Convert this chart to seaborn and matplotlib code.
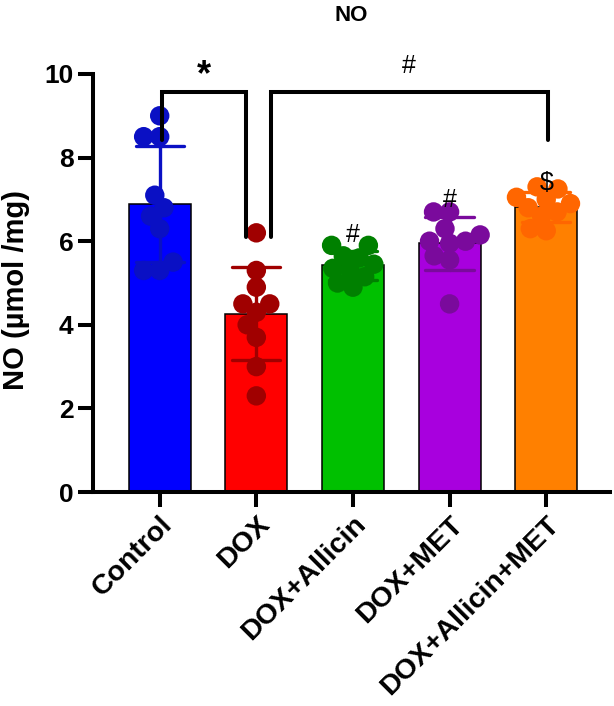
# NO levels per treatment group: bar = mean, error bar = SD, dots = individual samples

import pandas as pd
import numpy as np
import matplotlib
matplotlib.use("Agg")
import matplotlib.pyplot as plt
import seaborn as sns

# Data (NO, umol/mg)
groups = ["Control", "DOX", "DOX+Allicin", "DOX+MET", "DOX+Allicin+MET"]
control = [9.0, 8.5, 8.5, 7.1, 6.8, 6.6, 6.3, 5.5, 5.3, 5.3]
dox = [6.2, 5.3, 4.9, 4.5, 4.5, 4.3, 4.0, 3.7, 3.0, 2.3]
dox_allicin = [5.9, 5.9, 5.65, 5.6, 5.45, 5.35, 5.3, 5.15, 5.0, 4.9]
dox_met = [6.7, 6.7, 6.3, 6.15, 6.0, 6.0, 5.95, 5.65, 5.55, 4.5]
dox_allicin_met = [7.3, 7.25, 7.05, 7.0, 6.9, 6.8, 6.7, 6.6, 6.3, 6.25]

bar_colors = ["#0000FF", "#FF0000", "#00C000", "#A800DE", "#FF8000"]
dot_colors = ["#0A10C4", "#A00000", "#008000", "#7A0A9C", "#FF6600"]

df = pd.DataFrame({
    "group": np.repeat(groups, 10),
    "value": control + dox + dox_allicin + dox_met + dox_allicin_met,
})

sns.set_style("ticks")
plt.rcParams["font.family"] = ["Liberation Sans", "DejaVu Sans"]
plt.rcParams["text.color"] = "black"
plt.rcParams["axes.labelcolor"] = "black"
plt.rcParams["xtick.color"] = "black"
plt.rcParams["ytick.color"] = "black"
plt.rcParams["axes.edgecolor"] = "black"

fig = plt.figure(figsize=(6.14, 7.06), dpi=100)
ax = fig.add_axes([0.1515, 0.3031, 0.842, 0.5921])

sns.barplot(data=df, x="group", y="value", hue="group", order=groups, hue_order=groups,
            palette=bar_colors, saturation=1, errorbar="sd", capsize=0.5, width=0.64,
            edgecolor="black", linewidth=1.1, legend=False,
            err_kws={"linewidth": 2.4}, ax=ax)

# colour each error bar like its dots
for line, c in zip(ax.lines, dot_colors):
    line.set_color(c)
    line.set_zorder(2.5)

ax.set_ylim(0, 10)
ax.set_xlim(-0.69, 4.66)
ax.set_yticks([0, 2, 4, 6, 8, 10])

# swarm laid out with smaller dots, then frozen and enlarged so the dots overlap
n_coll = len(ax.collections)
sns.swarmplot(data=df, x="group", y="value", hue="group", order=groups, hue_order=groups,
              palette=dot_colors, size=11, legend=False, zorder=3, ax=ax)
ax.set_xlim(-0.69, 4.66)
fig.canvas.draw()
for coll in ax.collections[n_coll:]:
    if "draw" in coll.__dict__:
        del coll.draw
    coll.set_sizes([14 ** 2])

for pos in ["right", "top"]:
    ax.spines[pos].set_visible(False)
for pos in ["left", "bottom"]:
    ax.spines[pos].set_linewidth(2.9)
ax.tick_params(axis="both", width=2.9, length=11, pad=3, labelsize=19)
for lab in ax.get_yticklabels():
    lab.set_fontweight("bold")
ax.set_xticks(range(len(groups)))
ax.set_xticklabels(groups, rotation=45, ha="right", rotation_mode="anchor",
                   fontsize=20.5, fontweight="bold")

ax.set_xlabel("")
ax.set_ylabel("NO (µmol /mg)", fontsize=21, fontweight="bold")
ax.yaxis.set_label_coords(-0.122, 0.484)
ax.set_title("NO", fontsize=16, fontweight="bold", pad=38)

# significance brackets
lw = 2.9
ax.plot([0.02, 0.02, 0.89, 0.89], [8.43, 9.58, 9.58, 6.11], color="black", lw=lw,
        clip_on=False, solid_joinstyle="miter", zorder=4)
ax.plot([1.15, 1.15, 4.02, 4.02], [6.11, 9.58, 9.58, 8.43], color="black", lw=lw,
        clip_on=False, solid_joinstyle="miter", zorder=4)
ax.text(0.46, 9.95, "*", ha="center", va="center", fontsize=26, fontweight="bold")
ax.text(2.58, 10.2, "#", ha="center", va="center", fontsize=18)

# markers over the treatment bars
ax.text(2, 5.85, "#", ha="center", va="bottom", fontsize=18, zorder=5)
ax.text(3, 6.7, "#", ha="center", va="bottom", fontsize=18, zorder=5)
ax.text(4, 7.1, "$", ha="center", va="bottom", fontsize=18, zorder=5)

plt.savefig("out.png", dpi=100)
plt.close()
